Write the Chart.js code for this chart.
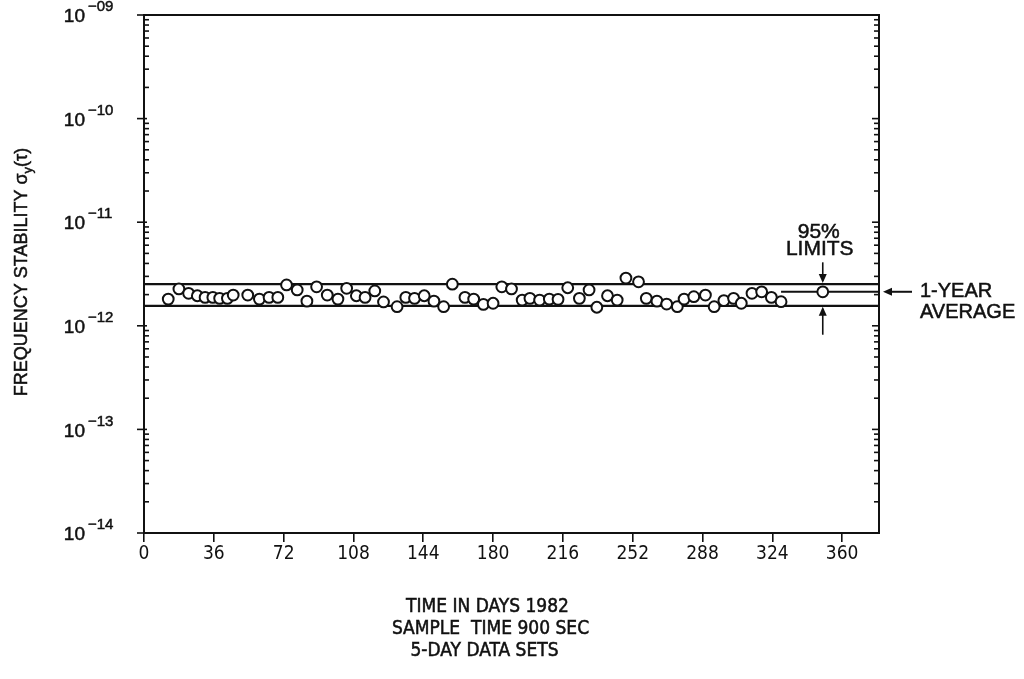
<!DOCTYPE html>
<html>
<head>
<meta charset="utf-8">
<script src="https://cdn.jsdelivr.net/npm/chart.js@4.4.0/dist/chart.umd.min.js"></script>
<style>
html, body { margin: 0; padding: 0; background: #fff; }
</style>
</head>
<body>
<canvas id="stabilityChart" width="1024" height="679"></canvas>
<script>
// 5-day data sets, days of 1982
const days = [12.5, 18, 23, 27.5, 31.5, 35.5, 39, 43, 46, 53.5, 59.5, 64.5, 69, 73.5, 79, 84, 89, 94.5, 100, 104.5,
    109.5, 114, 119, 123.5, 130.5, 135, 139.5, 144.5, 149.5, 154.5, 159, 165.5, 170, 175, 180, 184.5, 189.5, 195, 199, 204,
    209, 213.5, 218.5, 224.5, 229.5, 233.5, 239, 244, 248.5, 255, 259, 264.5, 269.5, 275, 278.5, 283.5, 289.5, 294, 299, 304,
    308, 313.5, 318.5, 323.5, 328.5];
// sigma_y(tau) in units of 1e-12
const sigmaY = [1.81, 2.27, 2.06, 1.95, 1.88, 1.88, 1.84, 1.84, 1.98, 1.98, 1.81, 1.88, 1.88, 2.48, 2.22, 1.73, 2.38, 1.98, 1.81, 2.30,
    1.95, 1.88, 2.17, 1.70, 1.53, 1.88, 1.84, 1.95, 1.73, 1.53, 2.52, 1.88, 1.81, 1.61, 1.65, 2.38, 2.27, 1.77, 1.84, 1.77,
    1.81, 1.80, 2.33, 1.84, 2.22, 1.51, 1.95, 1.77, 2.89, 2.66, 1.84, 1.73, 1.62, 1.53, 1.81, 1.91, 1.98, 1.53, 1.75, 1.84,
    1.65, 2.06, 2.13, 1.88, 1.71];

const xTicks = [0, 36, 72, 108, 144, 180, 216, 252, 288, 324, 360];
const yPowers = [-9, -10, -11, -12, -13, -14];
const yPowerLabels = ['\u221209', '\u221210', '\u221211', '\u221212', '\u221213', '\u221214'];

const upperLimit = 2.53e-12;
const lowerLimit = 1.56e-12;
const yearAverage = 2.13e-12;
const averageDay = 350;
const averageLineStart = 328.5;
const arrowTop = 4.1e-12;
const arrowBottom = 8.2e-13;
const xMax = 379;

const ink = '#111';
const fontName = '"Liberation Sans", Arial, sans-serif';
const narrowFont = '"Liberation Sans Narrow", "DejaVu Sans Condensed", "Liberation Sans", sans-serif';

function line(ctx, x1, y1, x2, y2) {
    ctx.beginPath();
    ctx.moveTo(x1, y1);
    ctx.lineTo(x2, y2);
    ctx.stroke();
}

function arrowHead(ctx, x, y, dx, dy) {
    // tip at (x, y), pointing along (dx, dy)
    const len = 9, half = 4;
    ctx.beginPath();
    ctx.moveTo(x, y);
    ctx.lineTo(x - dx * len - dy * half, y - dy * len + dx * half);
    ctx.lineTo(x - dx * len + dy * half, y - dy * len - dx * half);
    ctx.closePath();
    ctx.fill();
}

// slightly heavy text, like the printed original
function text(ctx, s, x, y) {
    ctx.fillText(s, x, y);
    ctx.strokeText(s, x, y);
}

const decor = {
    id: 'decor',
    afterDraw(chart) {
        const ctx = chart.ctx;
        const xs = chart.scales.x, ys = chart.scales.y;
        const { left, right, top, bottom } = chart.chartArea;
        ctx.save();
        ctx.strokeStyle = ink;
        ctx.fillStyle = ink;

        // frame
        ctx.lineWidth = 2;
        ctx.strokeRect(left, top, right - left, bottom - top);

        // log ticks on left and right
        ctx.lineWidth = 1.6;
        yPowers.forEach(p => {
            const y = ys.getPixelForValue(Math.pow(10, p));
            line(ctx, left - 7, y, left + 3, y);
            line(ctx, right - 7, y, right, y);
        });
        yPowers.slice(1).forEach(p => {
            for (let k = 2; k <= 9; k++) {
                const y = ys.getPixelForValue(k * Math.pow(10, p));
                line(ctx, left, y, left + 5, y);
                line(ctx, right - 5, y, right, y);
            }
        });

        ctx.lineWidth = 0.5;
        // y tick labels 10^-n
        ctx.textBaseline = 'middle';
        yPowers.forEach((p, i) => {
            const y = ys.getPixelForValue(Math.pow(10, p));
            ctx.font = '19px ' + fontName;
            ctx.textAlign = 'right';
            text(ctx, '10', left - 59, y + 2);
            ctx.font = '15px ' + fontName;
            ctx.textAlign = 'left';
            text(ctx, yPowerLabels[i], left - 56, y - 8);
        });

        // y title with subscript
        ctx.save();
        ctx.translate(22, (top + bottom) / 2 - 2);
        ctx.rotate(-Math.PI / 2);
        const main = 'FREQUENCY STABILITY \u03c3', sub = 'y', tail = '(\u03c4)';
        ctx.font = '18px ' + fontName;
        const w1 = ctx.measureText(main).width, w3 = ctx.measureText(tail).width;
        ctx.font = '13px ' + fontName;
        const w2 = ctx.measureText(sub).width;
        const sx = -(w1 + w2 + w3) / 2;
        ctx.textAlign = 'left';
        ctx.font = '18px ' + fontName;
        text(ctx, main, sx, 0);
        ctx.font = '13px ' + fontName;
        text(ctx, sub, sx + w1, 6);
        ctx.font = '18px ' + fontName;
        text(ctx, tail, sx + w1 + w2, 0);
        ctx.restore();

        // x title
        ctx.font = '19px ' + narrowFont;
        ctx.textAlign = 'center';
        const cx = (left + right) / 2 - 24;
        text(ctx, 'TIME IN DAYS 1982', cx, bottom + 74);
        text(ctx, 'SAMPLE  TIME 900 SEC', cx + 3, bottom + 96);
        text(ctx, '5-DAY DATA SETS', cx - 3, bottom + 118);

        // 95% limit arrows
        const xm = xs.getPixelForValue(averageDay);
        const yU = ys.getPixelForValue(upperLimit);
        const yL = ys.getPixelForValue(lowerLimit);
        const yA = ys.getPixelForValue(yearAverage);
        ctx.lineWidth = 1.6;
        line(ctx, xm, ys.getPixelForValue(arrowTop), xm, yU - 3);
        arrowHead(ctx, xm, yU - 1, 0, 1);
        line(ctx, xm, ys.getPixelForValue(arrowBottom), xm, yL + 3);
        arrowHead(ctx, xm, yL + 1, 0, -1);

        ctx.lineWidth = 0.5;
        ctx.font = '21px ' + fontName;
        text(ctx, '95%', xm - 4, yU - 52);
        text(ctx, 'LIMITS', xm - 3, yU - 35);

        // 1-year average pointer
        ctx.lineWidth = 2;
        line(ctx, right + 33, yA, right + 10, yA);
        arrowHead(ctx, right + 4, yA, -1, 0);
        ctx.lineWidth = 0.5;
        ctx.font = '20px ' + fontName;
        ctx.textAlign = 'left';
        text(ctx, '1-YEAR', right + 41, yA);
        text(ctx, 'AVERAGE', right + 41, yA + 21);
        ctx.restore();
    }
};

const points = days.map((d, i) => ({ x: d, y: sigmaY[i] * 1e-12 }));

new Chart(document.getElementById('stabilityChart'), {
    type: 'scatter',
    data: {
        datasets: [
            {
                data: points,
                pointStyle: 'circle',
                pointRadius: 5.4,
                pointBorderWidth: 2,
                borderColor: ink,
                backgroundColor: '#fff',
                showLine: false
            },
            {
                data: [{ x: averageDay, y: yearAverage }],
                pointStyle: 'circle',
                pointRadius: 5.4,
                pointBorderWidth: 2,
                borderColor: ink,
                backgroundColor: '#fff',
                showLine: false
            },
            {
                data: [{ x: 0, y: upperLimit }, { x: xMax, y: upperLimit }],
                showLine: true, borderColor: ink, borderWidth: 2.2, pointRadius: 0
            },
            {
                data: [{ x: 0, y: lowerLimit }, { x: xMax, y: lowerLimit }],
                showLine: true, borderColor: ink, borderWidth: 2.2, pointRadius: 0
            },
            {
                data: [{ x: averageLineStart, y: yearAverage }, { x: xMax, y: yearAverage }],
                showLine: true, borderColor: ink, borderWidth: 2, pointRadius: 0
            }
        ]
    },
    options: {
        responsive: false,
        animation: false,
        devicePixelRatio: 1,
        layout: { padding: { top: 15, right: 145, left: 0, bottom: 0 } },
        plugins: {
            legend: { display: false },
            tooltip: { enabled: false }
        },
        scales: {
            x: {
                type: 'linear',
                min: 0,
                max: xMax,
                afterBuildTicks: axis => { axis.ticks = xTicks.map(v => ({ value: v })); },
                afterFit: axis => { axis.height = 146; },
                grid: { drawOnChartArea: false, drawTicks: true, tickLength: 9, color: ink, lineWidth: 1.6 },
                border: { display: false },
                ticks: { color: ink, font: { size: 19, family: narrowFont }, padding: 1, maxRotation: 0, autoSkip: false }
            },
            y: {
                type: 'logarithmic',
                min: 1e-14,
                max: 1e-9,
                afterFit: axis => { axis.width = 144; },
                grid: { display: false },
                border: { display: false },
                ticks: { display: false }
            }
        }
    },
    plugins: [decor]
});
</script>
</body>
</html>
